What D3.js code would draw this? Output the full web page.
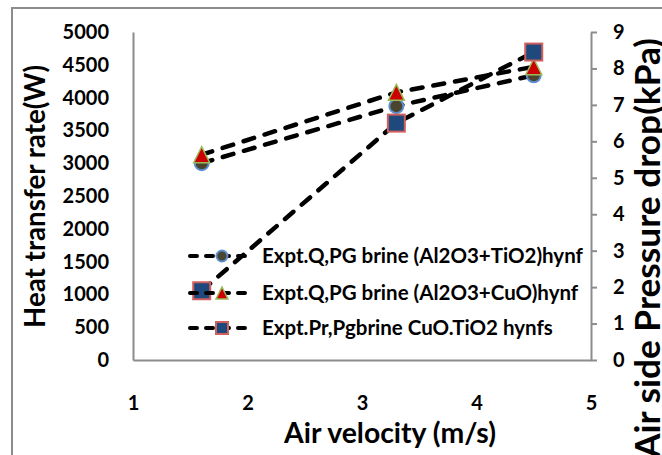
<!DOCTYPE html>
<html>
<head>
<meta charset="utf-8">
<script src="https://cdn.jsdelivr.net/npm/d3@7"></script>
<style>
  html, body { margin: 0; padding: 0; background: #fff; }
  svg { display: block; }
  text { font-family: Lato, "Open Sans", sans-serif; font-weight: 700; fill: #000; }
</style>
</head>
<body>
<svg id="chart" width="662" height="455"></svg>
<script>
// ---- data ----
const airVelocity = [1.6, 3.3, 4.5];
const qAl2O3TiO2 = [3000, 3870, 4340];      // left axis (W)
const qAl2O3CuO = [3130, 4080, 4470];       // left axis (W)
const prCuOTiO2 = [1.9, 6.5, 8.45];         // right axis (kPa)
const seriesNames = [
  "Expt.Q,PG brine (Al2O3+TiO2)hynf",
  "Expt.Q,PG brine (Al2O3+CuO)hynf",
  "Expt.Pr,Pgbrine CuO.TiO2 hynfs"
];
const xTickValues = [1, 2, 3, 4, 5];
const leftTickValues = [0, 500, 1000, 1500, 2000, 2500, 3000, 3500, 4000, 4500, 5000];
const rightTickValues = [0, 1, 2, 3, 4, 5, 6, 7, 8, 9];
const xTitle = "Air velocity (m/s)";
const leftTitle = "Heat transfer rate(W)";
const rightTitle = "Air side Pressure drop(kPa)";

// ---- layout ----
const svg = d3.select("#chart");
const plot = { left: 133, right: 591, top: 32, bottom: 360 };
const axisColor = "#8c8c8c";

const x = d3.scaleLinear().domain([1, 5]).range([plot.left, plot.right]);
const yL = d3.scaleLinear().domain([0, 5000]).range([plot.bottom, plot.top]);
const yR = d3.scaleLinear().domain([0, 9]).range([plot.bottom, plot.top]);
const fmt = d3.format("d");

function fit(sel, target) {
  const w = sel.node().getComputedTextLength();
  const fs = parseFloat(sel.attr("font-size"));
  if (w > 0) sel.attr("font-size", fs * target / w);
  return sel;
}

// outer chart border
svg.append("rect")
  .attr("x", 12).attr("y", 8).attr("width", 700).attr("height", 500)
  .attr("fill", "none").attr("stroke", axisColor).attr("stroke-width", 2);

// axes
const gL = svg.append("g").attr("transform", `translate(${plot.left},0)`)
  .call(d3.axisLeft(yL).tickValues(leftTickValues).tickFormat(fmt).tickSize(0).tickSizeOuter(0).tickPadding(24));
const gR = svg.append("g").attr("transform", `translate(${plot.right},0)`)
  .call(d3.axisRight(yR).tickValues(rightTickValues).tickFormat(fmt).tickSize(6).tickSizeOuter(0).tickPadding(16));
const gX = svg.append("g").attr("transform", `translate(0,${plot.bottom})`)
  .call(d3.axisBottom(x).tickValues(xTickValues).tickFormat(fmt).tickSize(0).tickSizeOuter(0).tickPadding(36));

[gL, gR, gX].forEach(g => {
  g.select(".domain").attr("stroke", axisColor).attr("stroke-width", 2);
  g.selectAll(".tick line").attr("stroke", axisColor).attr("stroke-width", 2);
  g.selectAll(".tick text").attr("font-size", 20).attr("font-family", "Lato, 'Open Sans', sans-serif")
    .attr("font-weight", 700).attr("fill", "#000");
});

// axis titles
fit(svg.append("text").attr("font-size", 28).attr("text-anchor", "middle")
  .attr("x", 390).attr("y", 443).text(xTitle), 212);
fit(svg.append("text").attr("font-size", 28).attr("text-anchor", "middle")
  .attr("transform", "translate(45,196.5) rotate(-90)").text(leftTitle), 263);
fit(svg.append("text").attr("font-size", 30).attr("text-anchor", "middle")
  .attr("transform", "translate(660,248) rotate(-90)").text(rightTitle), 420);

// ---- series ----
const dash = "11,11";
function drawLine(vals, yScale) {
  const line = d3.line().x((d, i) => x(airVelocity[i])).y(d => yScale(d));
  svg.append("path").datum(vals).attr("d", line)
    .attr("fill", "none").attr("stroke", "#000").attr("stroke-width", 4.5)
    .attr("stroke-dasharray", dash).attr("stroke-linecap", "round");
}

const triPath = s => `M0,${-s}L${s},${s}L${-s},${s}Z`;

function circleMarker(g, r) {
  g.append("circle").attr("r", r).attr("fill", "#4b4530").attr("stroke", "#5b8fd0").attr("stroke-width", 2);
}
function triMarker(g, s) {
  g.append("path").attr("d", triPath(s)).attr("fill", "#cc0000").attr("stroke", "#9bbb59").attr("stroke-width", 1.5);
}
function squareMarker(g, s) {
  g.append("rect").attr("x", -s).attr("y", -s).attr("width", 2 * s).attr("height", 2 * s)
    .attr("fill", "#1f497d").attr("stroke", "#d0605d").attr("stroke-width", 2);
}

drawLine(qAl2O3TiO2, yL);
qAl2O3TiO2.forEach((v, i) => circleMarker(svg.append("g").attr("transform", `translate(${x(airVelocity[i])},${yL(v)})`), 7));
drawLine(qAl2O3CuO, yL);
qAl2O3CuO.forEach((v, i) => triMarker(svg.append("g").attr("transform", `translate(${x(airVelocity[i])},${yL(v)})`), 8));
drawLine(prCuOTiO2, yR);
prCuOTiO2.forEach((v, i) => squareMarker(svg.append("g").attr("transform", `translate(${x(airVelocity[i])},${yR(v)})`), 8.5));

// ---- legend ----
const legendRows = [256, 293, 328];
const markers = [g => circleMarker(g, 5.5), g => triMarker(g, 6), g => squareMarker(g, 6)];
const legendTexts = [];
seriesNames.forEach((name, i) => {
  const y = legendRows[i];
  svg.append("line").attr("x1", 190).attr("x2", 252).attr("y1", y).attr("y2", y)
    .attr("stroke", "#000").attr("stroke-width", 4).attr("stroke-dasharray", "7,9")
    .attr("stroke-linecap", "round");
  markers[i](svg.append("g").attr("transform", `translate(222,${y})`));
  legendTexts.push(svg.append("text").attr("x", 262).attr("y", y + 6.5).attr("font-size", 18).text(name));
});
fit(legendTexts[0], 321);
const lfs = legendTexts[0].attr("font-size");
legendTexts.forEach(t => t.attr("font-size", lfs));
</script>
</body>
</html>
